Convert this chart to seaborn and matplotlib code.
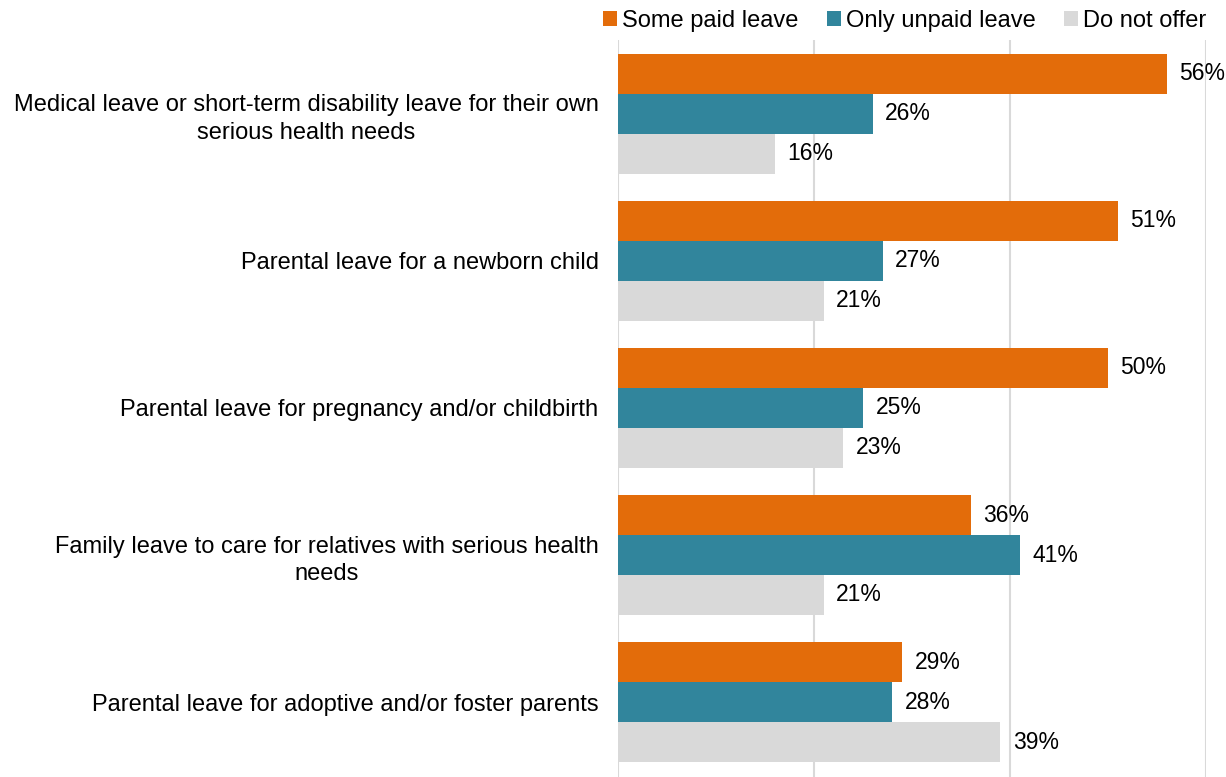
import pandas as pd
import matplotlib.pyplot as plt
import seaborn as sns

categories = [
    'Medical leave or short-term disability leave for their own\nserious health needs',
    'Parental leave for a newborn child',
    'Parental leave for pregnancy and/or childbirth',
    'Family leave to care for relatives with serious health\nneeds',
    'Parental leave for adoptive and/or foster parents',
]
series = ['Some paid leave', 'Only unpaid leave', 'Do not offer']
some_paid = [56, 51, 50, 36, 29]
only_unpaid = [26, 27, 25, 41, 28]
do_not_offer = [16, 21, 23, 21, 39]
colors = ['#E36C0A', '#31859C', '#D9D9D9']

df = pd.DataFrame({
    'category': categories * 3,
    'series': [s for s in series for _ in categories],
    'value': some_paid + only_unpaid + do_not_offer,
})

sns.set_style('white')
plt.rcParams['font.family'] = ['Liberation Sans', 'DejaVu Sans']
plt.rcParams['text.color'] = 'black'

fig, ax = plt.subplots(figsize=(12.26, 7.77), dpi=100)
fig.subplots_adjust(left=618 / 1226, right=1206 / 1226, top=1 - 40 / 777, bottom=0)

sns.barplot(data=df, y='category', x='value', hue='series', order=categories,
            hue_order=series, palette=colors, width=0.816, orient='h',
            saturation=1, linewidth=0, ax=ax)

# Value labels
for cont in ax.containers:
    ax.bar_label(cont, labels=[f'{v:.0f}%' for v in cont.datavalues],
                 padding=9, fontsize=16.5, color='black')

ax.set_xlim(0, 60)
ax.set_ylim(4.51, -0.503)
ax.set_xticks([0, 20, 40, 60])
ax.set_xticklabels([])
ax.xaxis.grid(True, color='#D9D9D9', linewidth=1.5)
ax.set_axisbelow(True)
ax.tick_params(axis='both', length=0)
ax.tick_params(axis='y', labelsize=17, pad=14, labelcolor='black')
for lbl in ax.get_yticklabels():
    lbl.set_multialignment('center')
    lbl.set_linespacing(1.35)
ax.set_xlabel('')
ax.set_ylabel('')
for sp in ax.spines.values():
    sp.set_visible(False)

ax.legend(loc='lower right', bbox_to_anchor=(1.02, 0.995), ncol=3, frameon=False,
          fontsize=17, handlelength=0.6, handleheight=0.6, handletextpad=0.2,
          columnspacing=1.2, borderaxespad=0.1)

plt.savefig('out.png', dpi=100)
